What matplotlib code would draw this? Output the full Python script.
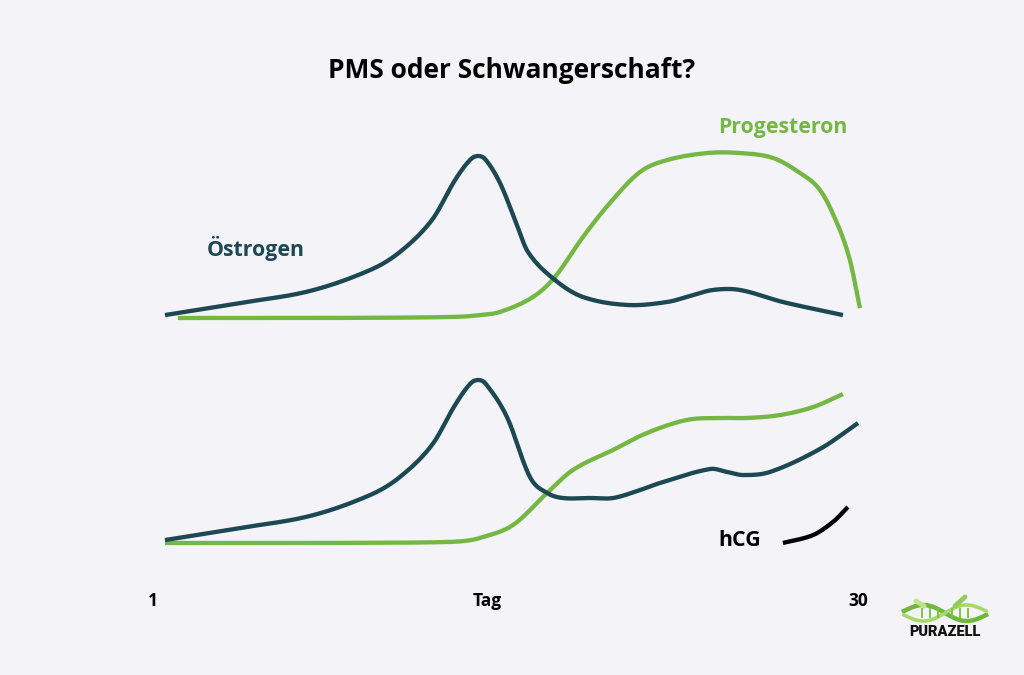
import matplotlib
matplotlib.use("Agg")
import matplotlib.pyplot as plt
import numpy as np

# ---- data (day of cycle, relative hormone level 0-100) ----
pms_estrogen_day = [1.0, 4.14, 7.07, 9.58, 10.83, 12.17, 13.14, 13.76, 14.10, 14.43, 15.02, 15.65,
                    16.19, 17.32, 18.49, 20.33, 22.01, 22.97, 23.93, 25.06, 26.86, 29.37]
pms_estrogen_lvl = [1.8, 9.2, 16.6, 29.4, 40.5, 60.1, 84.7, 96.9, 99.4, 96.9, 82.8, 60.1,
                    40.5, 23.3, 12.9, 8.0, 9.8, 13.5, 17.2, 17.2, 9.8, 1.8]

pms_progesteron_day = [1.54, 6.65, 10.5, 12.5, 13.5, 14.18, 15.02, 16.40, 17.32, 18.49, 19.62, 20.88, 22.01,
                       23.68, 25.06, 26.44, 27.57, 28.41, 29.12, 29.66, 30.08]
pms_progesteron_lvl = [0, 0, 0.2, 0.5, 0.9, 1.8, 3.7, 12.9, 25.2, 49.7, 70.6, 89.6, 96.9,
                       101.2, 101.2, 98.2, 89.0, 78.5, 58.3, 35.6, 6.1]

ss_estrogen_day = [1.0, 4.14, 7.07, 9.58, 10.83, 12.17, 13.14, 13.76, 14.10, 14.43, 15.31, 16.27,
                   16.99, 17.65, 18.78, 19.75, 20.88, 21.71, 23.81, 24.52, 25.19, 26.32, 28.41, 30.0]
ss_estrogen_lvl = [1.8, 9.2, 16.6, 29.4, 40.5, 60.1, 84.7, 97.5, 100, 97.5, 77.3, 40.5,
                   30.7, 27.6, 27.6, 27.6, 32.5, 36.8, 45.4, 43.6, 41.7, 43.6, 57.7, 73.6]

ss_progesteron_day = [1.0, 6.65, 10.5, 12.5, 13.5, 14.18, 15.56, 16.99, 18.07, 19.75, 21.17, 22.84, 24.22,
                      25.35, 26.74, 28.12, 29.37]
ss_progesteron_lvl = [0, 0, 0.2, 0.5, 1.2, 3.1, 11.0, 30.7, 44.8, 57.1, 67.5, 75.5, 76.7,
                      76.7, 78.5, 83.4, 91.4]

ss_hcg_day = [26.86, 28.12, 28.95, 29.58]
ss_hcg_lvl = [0, 4.9, 12.9, 22.1]

x_tick_labels = ["1", "Tag", "30"]
x_tick_days = [0.5, 14.5, 30]

# ---- style ----
BG = "#f3f3f8"
TEAL = "#1c4854"
GREEN = "#74b843"
FONT = ["Open Sans", "DejaVu Sans"]

W, H = 1024, 675
fig = plt.figure(figsize=(W / 100, H / 100), dpi=100, facecolor=BG)


def ax_at(x0, x1, y_top, y_bot):
    return fig.add_axes([x0 / W, 1 - y_bot / H, (x1 - x0) / W, (y_bot - y_top) / H])


def smooth(xs, ys, n=16):
    # cubic Hermite rendering with finite-difference slopes (visual smoothing only)
    xs = np.asarray(xs, float)
    ys = np.asarray(ys, float)
    m = np.empty_like(ys)
    m[1:-1] = (ys[2:] - ys[:-2]) / (xs[2:] - xs[:-2])
    m[0] = (ys[1] - ys[0]) / (xs[1] - xs[0])
    m[-1] = (ys[-1] - ys[-2]) / (xs[-1] - xs[-2])
    ox, oy = [], []
    t = np.linspace(0, 1, n, endpoint=False)
    for i in range(len(xs) - 1):
        h = xs[i + 1] - xs[i]
        h00 = 2 * t ** 3 - 3 * t ** 2 + 1
        h10 = t ** 3 - 2 * t ** 2 + t
        h01 = -2 * t ** 3 + 3 * t ** 2
        h11 = t ** 3 - t ** 2
        ox.extend(xs[i] + h * t)
        oy.extend(h00 * ys[i] + h10 * h * m[i] + h01 * ys[i + 1] + h11 * h * m[i + 1])
    ox.append(xs[-1])
    oy.append(ys[-1])
    return ox, oy


ax_top = ax_at(165, 858, 155, 318)
ax_bot = ax_at(165, 858, 380, 543)
for ax in (ax_top, ax_bot):
    ax.set_xlim(1, 30)
    ax.set_ylim(0, 100)
    ax.axis("off")
    ax.patch.set_alpha(0)

lw = 3.1
kw = dict(lw=lw, solid_capstyle="butt", solid_joinstyle="round", clip_on=False)
ax_top.plot(*smooth(pms_progesteron_day, pms_progesteron_lvl), color=GREEN, **kw)
ax_top.plot(*smooth(pms_estrogen_day, pms_estrogen_lvl), color=TEAL, **kw)
ax_bot.plot(*smooth(ss_progesteron_day, ss_progesteron_lvl), color=GREEN, **kw)
ax_bot.plot(*smooth(ss_estrogen_day, ss_estrogen_lvl), color=TEAL, **kw)
ax_bot.plot(*smooth(ss_hcg_day, ss_hcg_lvl), color="black", **kw)

# ---- labels ----
fig.text(512 / W, 1 - 70 / H, "PMS oder Schwangerschaft?", ha="center", va="center",
         fontsize=19, fontweight="bold", family=FONT, color="black")
fig.text(256 / W, 1 - 249 / H, "Östrogen", ha="center", va="center",
         fontsize=15.3, fontweight="bold", family=FONT, color=TEAL)
fig.text(783 / W, 1 - 128 / H, "Progesteron", ha="center", va="center",
         fontsize=15.3, fontweight="bold", family=FONT, color=GREEN)
fig.text(740 / W, 1 - 541 / H, "hCG", ha="center", va="center",
         fontsize=15.3, fontweight="bold", family=FONT, color="black")

label_y = -(601 - 543) / 163
for lbl, d in zip(x_tick_labels, x_tick_days):
    ax_bot.text(d, label_y, lbl, transform=ax_bot.get_xaxis_transform(), ha="center", va="center",
                fontsize=12.5, fontweight="bold", family=FONT, color="black")

# ---- logo ----
lax = fig.add_axes([0, 0, 1, 1], facecolor="none")
lax.set_xlim(0, W)
lax.set_ylim(H, 0)
lax.axis("off")
fig.text(945 / W, 1 - 632 / H, "PURAZELL", ha="center", va="center",
         fontsize=10.5, fontweight="heavy", family=["Roboto", "DejaVu Sans"], color="#111111")
lx = np.linspace(904, 986, 80)
ph = (lx - 904) / 82 * 2 * np.pi
lax.plot(lx, 613 - 7 * np.sin(ph) + 2 * (lx - 945) / 41, color="#6fb83c", lw=3.2)
lax.plot(lx, 613 + 7 * np.sin(ph) - 2 * (lx - 945) / 41, color="#a8d86c", lw=2.6)
for xv in (922, 930, 938, 952, 960, 968):
    lax.plot([xv, xv], [609, 617], color="#7fc246", lw=1.4)
lax.plot([955, 965], [606, 597], color="#92cc55", lw=3.5, solid_capstyle="round")
lax.plot([924, 916], [606, 601], color="#c2e28e", lw=3.5, solid_capstyle="round")

fig.savefig("out.png", dpi=100, facecolor=BG)
